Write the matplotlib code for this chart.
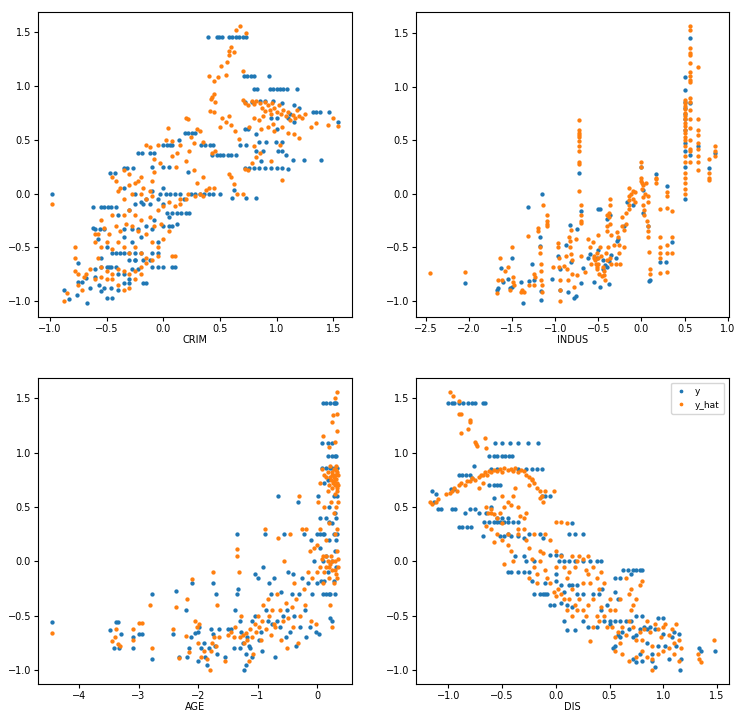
import numpy as np
import matplotlib
matplotlib.use("Agg")
import matplotlib.pyplot as plt

# ---- CRIM panel -------------------------------------------------------
crim_y = [
    (0.39, 1.46), (0.47, 1.46), (0.49, 1.46), (0.52, 1.46), (0.58, 1.46), (0.61, 1.46), (0.64, 1.46),
    (0.67, 1.46), (0.70, 1.46), (0.73, 1.46), (0.71, 1.09), (0.74, 1.09), (0.77, 1.09), (0.80, 1.09),
    (0.93, 1.09), (0.80, 0.97), (0.83, 0.97), (0.94, 0.97), (0.97, 0.97), (1.00, 0.97), (1.03, 0.97),
    (1.06, 0.97), (1.09, 0.97), (1.18, 0.97), (1.32, 0.76), (1.35, 0.76), (1.38, 0.76), (1.46, 0.76),
    (1.54, 0.67), (0.19, 0.56), (0.22, 0.56), (0.25, 0.56), (0.28, 0.56), (0.00, 0.45), (0.03, 0.45),
    (0.06, 0.45), (0.08, 0.45), (0.33, 0.45), (0.37, 0.45), (0.41, 0.45), (0.44, 0.45), (0.43, 0.36),
    (0.47, 0.36), (0.50, 0.36), (0.53, 0.36), (0.57, 0.36), (0.60, 0.36), (0.64, 0.36), (-0.22, 0.38),
    (-0.19, 0.38), (-0.12, 0.38), (-0.08, 0.38), (1.14, 0.31), (1.24, 0.31), (1.39, 0.31), (0.72, 0.24),
    (0.76, 0.24), (0.80, 0.24), (0.84, 0.24), (0.90, 0.24), (0.95, 0.24), (1.00, 0.24), (1.05, 0.24),
    (-0.35, 0.24), (-0.32, 0.24), (-0.27, 0.24), (-0.47, 0.19), (-0.43, 0.19), (0.22, 0.20),
    (0.00, 0.25), (0.05, 0.25), (-0.98, 0.00), (-0.03, 0.00), (0.02, 0.00), (0.06, 0.00), (0.10, 0.00),
    (0.24, 0.00), (0.28, 0.00), (0.32, 0.00), (0.36, 0.00), (0.40, 0.00), (0.44, 0.00), (0.50, 0.00),
    (0.61, -0.04), (0.73, -0.04), (0.82, -0.04), (-0.62, -0.13), (-0.55, -0.13), (-0.52, -0.13),
    (-0.49, -0.13), (-0.46, -0.13), (-0.42, -0.13), (-0.25, -0.10), (-0.18, -0.10), (-0.12, -0.10),
    (0.03, -0.18), (0.08, -0.18), (0.12, -0.18), (0.16, -0.18), (0.20, -0.18), (0.23, -0.18),
    (-0.60, -0.33), (-0.56, -0.33), (-0.35, -0.33), (-0.28, -0.33), (-0.22, -0.33), (-0.10, -0.33),
    (0.05, -0.30), (0.12, -0.28), (-0.42, -0.55), (-0.38, -0.55), (-0.35, -0.55), (-0.30, -0.55),
    (-0.25, -0.55), (-0.20, -0.55), (-0.10, -0.55), (-0.05, -0.55), (-0.30, -0.62), (-0.25, -0.62),
    (-0.18, -0.62), (-0.12, -0.62), (-0.55, -0.68), (-0.50, -0.68), (-0.46, -0.68), (-0.42, -0.68),
    (-0.10, -0.68), (-0.05, -0.68), (0.00, -0.68), (0.08, -0.68), (0.10, -0.68), (-0.28, -0.70),
    (-0.22, -0.70), (-0.18, -0.83), (-0.15, -0.83), (-0.35, -0.83), (-0.30, -0.83), (-0.52, -0.88),
    (-0.46, -0.88), (-0.88, -0.90), (-0.83, -0.98), (-0.76, -0.94), (-0.75, -0.82), (-0.72, -0.82),
    (-0.67, -1.02), (-0.65, -0.88), (-0.68, -0.79), (-0.60, -0.78), (-0.57, -0.85), (-0.50, -0.97),
    (-0.45, -0.97), (-0.40, -0.90), (-0.55, -0.91), (-0.60, -0.70), (-0.75, -0.65), (-0.55, -0.60),
    (-0.50, -0.50), (-0.58, -0.42), (-0.62, -0.32), (-0.52, -0.33), (0.75, 0.60), (0.72, 0.60),
    (0.88, 0.40), (0.82, 0.40), (0.84, 0.48), (0.91, 0.48), (0.99, 0.48), (1.05, 0.48), (1.01, 0.40),
    (1.05, 0.40), (1.08, 0.36), (1.10, 0.23), (0.95, 0.70), (1.00, 0.70), (1.10, 0.70), (1.15, 0.67),
    (1.20, 0.80), (1.15, 0.82), (0.85, 0.86), (0.90, 0.86), (0.97, 0.86), (1.05, 0.84), (0.78, 0.85),
    (0.72, 0.85), (1.12, 0.74), (0.82, 0.55), (1.00, 0.60), (0.68, 0.45), (0.73, 0.45), (0.86, 0.30),
    (0.62, 0.03), (0.14, 0.50), (-0.30, -0.15), (-0.20, -0.08), (-0.15, -0.05), (-0.05, -0.05),
    (0.00, -0.10), (-0.15, -0.30), (-0.08, -0.25), (-0.05, -0.45), (0.00, -0.30), (-0.20, -0.40),
    (-0.28, -0.45), (-0.35, -0.40), (-0.45, -0.55), (-0.48, -0.68), (-0.40, -0.75), (-0.35, -0.75),
    (-0.30, -0.80), (-0.25, -0.62), (0.05, -0.22), (0.08, -0.30), (0.00, 0.05), (-0.10, 0.02),
    (-0.35, 0.05), (-0.40, -0.20), (-0.25, 0.00), (-0.10, 0.25), (0.15, 0.00), (0.18, -0.05),
]
crim_yhat = [
    (0.40, 1.09), (0.45, 1.05), (0.48, 1.08), (0.51, 1.19), (0.56, 1.22), (0.58, 1.29), (0.58, 1.33),
    (0.60, 1.36), (0.62, 1.32), (0.64, 1.52), (0.68, 1.56), (0.73, 1.49), (0.70, 1.14), (0.55, 1.10),
    (0.43, 0.90), (0.42, 0.88), (0.45, 0.93), (0.46, 0.85), (0.41, 0.77), (0.45, 0.76), (0.55, 0.67),
    (0.52, 0.70), (0.58, 0.72), (0.60, 0.64), (0.63, 0.58), (0.67, 0.51), (0.50, 0.62), (0.70, 0.87),
    (0.72, 0.84), (0.75, 0.82), (0.78, 0.86), (0.80, 0.83), (0.82, 0.86), (0.85, 0.84), (0.87, 0.80),
    (0.90, 0.85), (0.92, 0.82), (0.94, 0.78), (0.96, 0.84), (0.98, 0.80), (1.00, 0.76), (1.02, 0.82),
    (1.04, 0.74), (1.06, 0.78), (1.08, 0.72), (1.10, 0.76), (1.12, 0.68), (1.14, 0.73), (1.16, 0.70),
    (1.18, 0.78), (1.20, 0.72), (1.22, 0.70), (1.25, 0.74), (0.88, 0.72), (0.84, 0.68), (0.80, 0.70),
    (0.76, 0.62), (0.86, 0.60), (0.92, 0.62), (0.97, 0.65), (1.05, 0.62), (1.10, 0.56), (1.15, 0.55),
    (1.20, 0.52), (1.30, 0.62), (1.35, 0.66), (1.45, 0.64), (1.50, 0.70), (1.54, 0.63), (0.95, 0.74),
    (0.90, 0.77), (0.98, 0.58), (0.80, 0.44), (0.85, 0.38), (0.82, 0.34), (0.78, 0.28), (0.75, 0.22),
    (0.72, 0.23), (0.95, 0.30), (1.03, 0.45), (1.05, 0.13), (0.62, 0.09), (0.65, 0.00), (0.70, -0.00),
    (0.60, 0.15), (0.58, 0.18), (0.43, 0.38), (0.46, 0.40), (0.35, 0.48), (0.20, 0.70), (0.22, 0.69),
    (0.30, 0.60), (0.32, 0.58), (0.24, 0.53), (0.27, 0.47), (0.23, 0.40), (0.15, 0.45), (0.12, 0.38),
    (0.08, 0.49), (0.04, 0.61), (0.02, 0.50), (-0.05, 0.45), (-0.12, 0.43), (-0.15, 0.45), (-0.08, 0.32),
    (-0.03, 0.28), (0.08, 0.35), (0.11, 0.25), (0.20, 0.30), (0.27, 0.22), (0.30, 0.10), (0.35, 0.15),
    (0.40, 0.05), (0.45, 0.05), (0.32, 0.00), (0.28, -0.02), (0.20, -0.05), (0.15, -0.10), (0.10, -0.12),
    (0.05, -0.08), (0.00, -0.12), (-0.05, -0.15), (0.15, -0.05), (0.22, 0.00), (0.35, -0.02),
    (0.38, 0.03), (-0.10, 0.12), (-0.08, 0.20), (-0.20, 0.15), (-0.22, 0.12), (-0.25, 0.10),
    (-0.18, 0.05), (-0.12, 0.02), (-0.20, 0.00), (-0.15, -0.05), (-0.10, -0.02), (-0.30, 0.08),
    (-0.28, 0.00), (-0.38, 0.05), (-0.45, 0.15), (-0.42, 0.12), (-0.35, -0.05), (-0.30, -0.15),
    (-0.25, -0.20), (-0.20, -0.25), (-0.12, -0.22), (-0.08, -0.30), (-0.02, -0.28), (0.05, -0.35),
    (0.00, -0.42), (-0.05, -0.50), (-0.10, -0.45), (-0.15, -0.38), (-0.22, -0.35), (-0.28, -0.30),
    (-0.33, -0.28), (-0.38, -0.35), (-0.42, -0.30), (-0.48, -0.38), (-0.52, -0.32), (-0.58, -0.38),
    (-0.60, -0.45), (-0.55, -0.50), (-0.50, -0.45), (-0.45, -0.52), (-0.40, -0.45), (-0.35, -0.50),
    (-0.30, -0.55), (-0.25, -0.50), (-0.20, -0.55), (-0.15, -0.60), (-0.10, -0.62), (-0.05, -0.58),
    (0.08, -0.58), (0.10, -0.58), (-0.58, -0.60), (-0.55, -0.68), (-0.50, -0.72), (-0.45, -0.75),
    (-0.40, -0.70), (-0.35, -0.72), (-0.30, -0.75), (-0.25, -0.72), (-0.20, -0.68), (-0.15, -0.65),
    (-0.20, -0.75), (-0.25, -0.80), (-0.30, -0.88), (-0.35, -0.90), (-0.40, -0.85), (-0.45, -0.80),
    (-0.50, -0.80), (-0.55, -0.78), (-0.60, -0.80), (-0.65, -0.70), (-0.68, -0.75), (-0.70, -0.78),
    (-0.75, -0.75), (-0.78, -0.72), (-0.78, -0.60), (-0.78, -0.50), (-0.75, -0.85), (-0.72, -0.90),
    (-0.85, -0.93), (-0.88, -1.00), (-0.98, -0.10), (-0.60, -0.38), (-0.55, -0.25), (-0.45, -0.20),
    (-0.35, -0.20), (-0.40, 0.02), (-0.30, 0.18), (-0.35, 0.22),
]

# ---- INDUS panel ------------------------------------------------------
indus_y = [
    (-2.05, -0.83), (-1.67, -0.90), (-1.66, -0.88), (-1.63, -0.69), (-1.60, -0.82), (-1.55, -0.79),
    (-1.50, -0.60), (-1.50, -0.87), (-1.52, -0.88), (-1.40, -0.82), (-1.37, -1.02), (-1.32, -0.12),
    (-1.30, -0.81), (-1.27, -0.65), (-1.25, -0.80), (-1.18, -0.40), (-1.18, -0.49), (-1.17, -0.91),
    (-1.16, -0.99), (-1.15, 0.00), (-1.04, -0.79), (-0.97, -0.58), (-0.95, -0.70), (-0.95, -0.90),
    (-0.87, -0.48), (-0.85, -0.92), (-0.83, -0.29), (-0.82, -0.64), (-0.78, -0.97), (-0.76, -0.95),
    (-0.75, -0.33), (-0.72, 0.20), (-0.70, -0.16), (-0.70, -0.83), (-0.68, -0.69), (-0.62, -0.60),
    (-0.60, -0.56), (-0.55, -0.82), (-0.50, -0.52), (-0.50, -0.14), (-0.48, -0.14), (-0.48, -0.87),
    (-0.45, -0.62), (-0.42, -0.66), (-0.40, -0.68), (-0.40, -0.23), (-0.38, -0.84), (-0.38, -0.63),
    (-0.37, -0.20), (-0.35, -0.57), (-0.28, -0.44), (-0.27, -0.42), (-0.17, -0.08), (-0.10, -0.10),
    (0.00, 0.25), (0.02, 0.04), (0.07, -0.30), (0.09, -0.81), (0.10, -0.80), (0.17, 0.19),
    (0.22, -0.64), (0.29, -0.64), (0.30, 0.07), (0.35, -0.45), (0.50, -0.05), (0.50, 0.25),
    (0.50, 0.40), (0.50, 0.48), (0.50, 0.97), (0.50, 1.09), (0.50, 0.75), (0.50, 0.80), (0.50, 0.60),
    (0.50, 0.86), (0.50, 0.70), (0.56, 1.46), (0.56, 0.36), (0.65, 0.45), (0.78, 0.24), (0.85, 0.38),
    (-0.52, -0.60), (-0.45, -0.70), (-0.30, -0.60), (-0.20, -0.30), (0.02, -0.18), (0.56, 0.85),
]
indus_yhat = [
    (-2.45, -0.74), (-2.05, -0.73), (-1.67, -0.93), (-1.66, -0.80), (-1.64, -0.60), (-1.62, -0.80),
    (-1.58, -0.72), (-1.55, -0.68), (-1.52, -0.90), (-1.50, -0.50), (-1.49, -0.78), (-1.49, -0.82),
    (-1.48, -0.85), (-1.40, -0.92), (-1.38, -0.90), (-1.36, -0.92), (-1.32, -0.39), (-1.30, -0.85),
    (-1.25, -0.75), (-1.25, -0.85), (-1.23, -0.78), (-1.20, -0.32), (-1.20, -0.35), (-1.18, -0.50),
    (-1.18, -0.55), (-1.17, -0.65), (-1.17, -0.72), (-1.16, -0.80), (-1.15, -0.85), (-1.15, -0.92),
    (-1.14, -0.10), (-1.10, -0.20), (-1.10, -0.25), (-1.10, -0.28), (-1.10, -0.30), (-1.03, -0.68),
    (-0.97, -0.46), (-0.97, -0.50), (-0.96, -0.60), (-0.96, -0.68), (-0.95, -0.80), (-0.95, -0.90),
    (-0.94, -1.00), (-0.90, -0.67), (-0.87, -0.58), (-0.86, -0.70), (-0.85, -0.80), (-0.84, -0.40),
    (-0.83, -0.44), (-0.83, -0.50), (-0.82, -0.56), (-0.82, -0.34), (-0.81, -0.62), (-0.80, -0.75),
    (-0.78, -0.87), (-0.76, -0.42), (-0.75, -0.76), (-0.72, 0.69), (-0.72, 0.60), (-0.72, 0.57),
    (-0.72, 0.55), (-0.72, 0.53), (-0.72, 0.49), (-0.72, 0.45), (-0.72, 0.40), (-0.72, 0.30),
    (-0.72, 0.28), (-0.72, 0.03), (-0.70, -0.10), (-0.70, -0.20), (-0.70, -0.25), (-0.70, -0.27),
    (-0.70, -0.58), (-0.65, -0.73), (-0.62, -0.42), (-0.60, -0.50), (-0.58, -0.65), (-0.56, -0.45),
    (-0.55, -0.58), (-0.55, -0.60), (-0.54, -0.62), (-0.53, -0.65), (-0.52, -0.68), (-0.52, -0.55),
    (-0.51, -0.70), (-0.50, -0.38), (-0.50, -0.60), (-0.50, -0.65), (-0.49, -0.75), (-0.48, -0.50),
    (-0.47, -0.58), (-0.46, -0.77), (-0.45, -0.68), (-0.44, -0.72), (-0.43, -0.76), (-0.42, -0.80),
    (-0.41, -0.55), (-0.40, -0.20), (-0.40, -0.30), (-0.40, -0.35), (-0.40, -0.62), (-0.39, -0.50),
    (-0.38, -0.18), (-0.38, -0.22), (-0.37, -0.10), (-0.37, -0.05), (-0.37, -0.28), (-0.36, -0.60),
    (-0.35, -0.65), (-0.35, -0.38), (-0.32, -0.48), (-0.30, -0.65), (-0.28, -0.36), (-0.27, -0.40),
    (-0.26, -0.48), (-0.26, -0.55), (-0.25, -0.65), (-0.22, -0.30), (-0.22, -0.22), (-0.20, -0.34),
    (-0.20, -0.50), (-0.18, -0.18), (-0.18, -0.28), (-0.15, -0.02), (-0.15, -0.06), (-0.14, -0.10),
    (-0.14, 0.06), (-0.14, -0.14), (-0.12, 0.00), (-0.10, 0.03), (-0.10, -0.05), (-0.08, -0.08),
    (-0.08, 0.02), (0.00, 0.30), (0.00, 0.25), (0.00, 0.15), (0.00, 0.12), (0.01, 0.10), (0.01, 0.05),
    (0.02, 0.08), (0.02, -0.03), (0.02, -0.10), (0.03, -0.15), (0.03, -0.20), (0.04, 0.00), (0.05, 0.10),
    (0.06, -0.25), (0.08, -0.02), (0.08, -0.08), (0.08, -0.30), (0.08, -0.35), (0.08, -0.40),
    (0.09, -0.54), (0.10, -0.70), (0.10, -0.75), (0.17, 0.10), (0.17, 0.14), (0.17, 0.15),
    (0.22, -0.14), (0.22, -0.40), (0.22, -0.50), (0.22, -0.55), (0.22, -0.60), (0.22, -0.74),
    (0.30, 0.02), (0.30, -0.02), (0.30, -0.13), (0.30, -0.48), (0.30, -0.55), (0.30, -0.73),
    (0.35, -0.16), (0.35, -0.40), (0.35, -0.55), (0.50, 0.00), (0.50, 0.05), (0.50, 0.10), (0.50, 0.15),
    (0.50, 0.20), (0.50, 0.30), (0.50, 0.35), (0.50, 0.45), (0.50, 0.50), (0.50, 0.53), (0.50, 0.57),
    (0.50, 0.60), (0.50, 0.63), (0.50, 0.66), (0.50, 0.70), (0.50, 0.73), (0.50, 0.76), (0.50, 0.79),
    (0.50, 0.82), (0.50, 0.85), (0.50, 0.88), (0.56, 1.57), (0.56, 1.53), (0.56, 1.36), (0.56, 1.32),
    (0.56, 1.30), (0.56, 1.22), (0.56, 1.14), (0.56, 1.10), (0.56, 1.05), (0.56, 1.06), (0.56, 0.90),
    (0.56, 0.86), (0.56, 0.78), (0.56, 0.70), (0.56, 0.62), (0.56, 0.50), (0.56, 0.42), (0.56, 0.40),
    (0.56, 0.30), (0.65, 1.19), (0.65, 0.70), (0.65, 0.60), (0.65, 0.55), (0.65, 0.48), (0.65, 0.42),
    (0.65, 0.35), (0.65, 0.30), (0.65, 0.22), (0.78, 0.33), (0.78, 0.20), (0.78, 0.15), (0.78, 0.13),
    (0.85, 0.45), (0.85, 0.40), (0.85, 0.35),
]

# ---- AGE panel --------------------------------------------------------
age_y = [
    (-4.45, -0.56), (-3.48, -0.63), (-3.42, -0.80), (-3.38, -0.56), (-3.35, -0.56), (-3.33, -0.80),
    (-3.30, -0.67), (-3.10, -0.70), (-3.10, -0.80), (-3.00, -0.67), (-2.95, -0.67), (-2.78, -0.30),
    (-2.78, -0.90), (-2.42, -0.67), (-2.37, -0.27), (-2.32, -0.88), (-2.20, -0.45), (-2.18, -0.88),
    (-2.15, -0.80), (-2.12, -0.70), (-2.10, -0.20), (-2.05, -0.66), (-2.00, -0.65), (-2.00, -0.92),
    (-1.98, -0.60), (-1.95, -0.80), (-1.90, -0.75), (-1.88, -0.88), (-1.85, -0.95), (-1.82, -0.80),
    (-1.78, -0.62), (-1.75, -0.20), (-1.75, -0.67), (-1.72, -0.78), (-1.70, -0.30), (-1.68, -0.85),
    (-1.65, -0.62), (-1.55, -0.88), (-1.50, -0.62), (-1.45, -0.62), (-1.40, -0.80), (-1.38, -0.45),
    (-1.35, 0.25), (-1.35, -0.30), (-1.33, -0.25), (-1.30, -0.55), (-1.30, -0.80), (-1.28, -0.65),
    (-1.25, -0.75), (-1.22, -1.00), (-1.20, -0.95), (-1.20, -0.85), (-1.18, -0.70), (-1.15, -0.78),
    (-1.12, -0.80), (-1.10, -0.55), (-1.10, -0.88), (-1.05, -0.12), (-1.05, -0.50), (-1.00, -0.15),
    (-0.98, -0.72), (-0.95, -0.65), (-0.92, -0.82), (-0.90, -0.05), (-0.88, 0.25), (-0.85, -0.45),
    (-0.82, -0.55), (-0.80, -0.20), (-0.78, -0.30), (-0.75, -0.58), (-0.72, -0.15), (-0.70, -0.88),
    (-0.68, -0.55), (-0.65, 0.60), (-0.62, -0.60), (-0.60, -0.28), (-0.58, -0.50), (-0.55, 0.25),
    (-0.52, -0.70), (-0.50, -0.45), (-0.48, -0.10), (-0.45, -0.65), (-0.42, -0.30), (-0.40, -0.12),
    (-0.38, -0.50), (-0.35, -0.78), (-0.32, 0.55), (-0.30, -0.30), (-0.28, -0.60), (-0.25, -0.15),
    (-0.22, 0.25), (-0.20, -0.45), (-0.18, -0.70), (-0.15, -0.20), (-0.12, -0.60), (-0.10, 0.20),
    (-0.08, -0.30), (-0.05, 0.00), (-0.02, -0.65), (0.00, 0.25), (0.00, -0.20), (0.02, 0.60),
    (0.03, -0.67), (0.05, 0.40), (0.05, 0.12), (0.07, -0.18), (0.08, 1.09), (0.08, 0.86), (0.10, 1.46),
    (0.10, 0.00), (0.10, -0.30), (0.12, 0.72), (0.12, 0.25), (0.15, 1.46), (0.15, 0.86), (0.15, 0.40),
    (0.15, 0.05), (0.15, -0.30), (0.18, 1.09), (0.18, 0.97), (0.18, 0.75), (0.18, -0.10), (0.20, 0.50),
    (0.20, 0.20), (0.22, 1.46), (0.22, 0.86), (0.22, -0.30), (0.22, -0.52), (0.25, 1.09), (0.25, 0.97),
    (0.25, 0.35), (0.25, 0.00), (0.25, -0.55), (0.28, 1.46), (0.28, 0.60), (0.28, 0.25), (0.28, -0.18),
    (0.30, 1.46), (0.30, 0.97), (0.30, 0.86), (0.30, 0.45), (0.30, 0.10), (0.30, -0.30), (0.32, 1.46),
    (0.32, 0.97), (0.32, 0.40), (0.32, -0.05), (0.32, 0.20), (0.33, 0.60), (0.33, 0.86), (0.33, 0.25),
    (0.05, 0.25), (0.10, 0.25), (0.20, 0.36), (0.25, 0.86), (0.12, -0.18), (0.20, -0.30),
]
age_yhat = [
    (-4.45, -0.66), (-3.45, -0.73), (-3.40, -0.70), (-3.38, -0.62), (-3.35, -0.76), (-3.32, -0.78),
    (-3.10, -0.62), (-3.10, -0.72), (-3.00, -0.57), (-2.95, -0.57), (-2.80, -0.40), (-2.78, -0.80),
    (-2.42, -0.62), (-2.37, -0.42), (-2.32, -0.89), (-2.20, -0.69), (-2.18, -0.35), (-2.15, -0.83),
    (-2.10, -0.16), (-2.05, -0.55), (-2.02, -0.60), (-2.00, -0.75), (-1.98, -0.58), (-1.95, -0.88),
    (-1.90, -0.82), (-1.85, -0.90), (-1.80, -1.00), (-1.78, -0.82), (-1.76, -0.75), (-1.75, -0.10),
    (-1.73, -0.70), (-1.70, -0.78), (-1.68, -0.40), (-1.65, -0.70), (-1.55, -0.92), (-1.50, -0.68),
    (-1.45, -0.65), (-1.40, -0.70), (-1.38, -0.60), (-1.35, 0.11), (-1.35, 0.05), (-1.32, -0.10),
    (-1.30, -0.70), (-1.28, -0.50), (-1.25, -0.68), (-1.22, -0.75), (-1.20, -0.66), (-1.18, -0.72),
    (-1.15, -0.92), (-1.12, -0.62), (-1.10, -0.70), (-1.08, -0.85), (-1.05, -0.58), (-1.02, -0.65),
    (-1.00, -0.50), (-0.98, -0.60), (-0.95, -0.72), (-0.92, -0.55), (-0.90, -0.40), (-0.88, 0.30),
    (-0.85, -0.62), (-0.82, -0.35), (-0.80, -0.50), (-0.78, -0.68), (-0.75, -0.45), (-0.72, -0.58),
    (-0.70, -0.60), (-0.68, -0.30), (-0.65, 0.22), (-0.62, -0.45), (-0.60, -0.72), (-0.58, -0.55),
    (-0.55, 0.00), (-0.52, -0.38), (-0.50, -0.80), (-0.48, -0.52), (-0.45, 0.25), (-0.42, -0.42),
    (-0.40, -0.60), (-0.38, -0.20), (-0.35, -0.35), (-0.32, -0.75), (-0.30, 0.60), (-0.28, -0.50),
    (-0.25, 0.30), (-0.22, -0.25), (-0.20, -0.40), (-0.18, 0.30), (-0.15, -0.10), (-0.12, 0.10),
    (-0.10, -0.55), (-0.08, -0.15), (-0.05, 0.12), (-0.02, -0.58), (0.00, 0.15), (0.00, -0.10),
    (0.02, 0.55), (0.05, 0.72), (0.05, 0.30), (0.05, -0.05), (0.08, 0.85), (0.08, 0.02), (0.10, -0.20),
    (0.10, 1.15), (0.12, 0.80), (0.12, 0.50), (0.12, -0.10), (0.15, 0.78), (0.15, 0.20), (0.15, -0.05),
    (0.18, 0.82), (0.18, 0.65), (0.18, 0.00), (0.20, 1.05), (0.20, 0.70), (0.20, 0.35), (0.20, -0.15),
    (0.22, 0.88), (0.22, 0.78), (0.22, -0.02), (0.22, -0.40), (0.24, 0.75), (0.24, 0.55), (0.24, 0.05),
    (0.25, 1.28), (0.25, 0.82), (0.25, -0.60), (0.26, 0.68), (0.26, -0.08), (0.27, 1.35), (0.27, 0.72),
    (0.28, 0.85), (0.28, 0.45), (0.28, -0.20), (0.29, 0.78), (0.30, 1.50), (0.30, 1.10), (0.30, 0.80),
    (0.30, 0.62), (0.30, 0.00), (0.31, 0.70), (0.31, 0.25), (0.32, 0.88), (0.32, 0.76), (0.32, 0.50),
    (0.32, -0.12), (0.33, 1.56), (0.33, 1.20), (0.33, 0.82), (0.33, 0.65), (0.33, 0.10), (0.34, 1.36),
    (0.34, 0.72), (0.34, 0.30), (0.34, -0.15), (0.35, 0.80), (0.35, 0.55), (0.35, 0.02), (0.30, 0.76),
    (0.32, 0.84), (0.34, 0.68), (0.28, 0.74), (0.26, 0.80), (0.35, 0.70), (0.20, -0.05), (0.25, 0.00),
    (0.15, 0.05), (0.30, -0.08), (0.35, -0.05), (0.10, 0.05),
]

# ---- DIS panel --------------------------------------------------------
dis_y = [
    (-1.15, 0.65), (-1.12, 0.62), (-1.10, 0.48), (-1.07, 0.48), (-1.13, 0.55), (-1.00, 1.46),
    (-0.97, 1.46), (-0.95, 1.46), (-0.90, 1.46), (-0.86, 1.46), (-0.82, 1.46), (-0.78, 1.46),
    (-0.75, 1.46), (-0.68, 1.46), (-0.66, 1.46), (-0.98, 0.67), (-0.95, 0.67), (-0.90, 0.80),
    (-0.87, 0.80), (-0.84, 0.80), (-0.80, 0.80), (-0.78, 0.77), (-0.76, 0.88), (-0.97, 0.48),
    (-0.94, 0.48), (-0.90, 0.32), (-0.87, 0.32), (-0.83, 0.32), (-0.79, 0.32), (-0.85, 0.45),
    (-0.80, 0.48), (-0.75, 0.48), (-0.72, 0.45), (-0.68, 0.23), (-0.67, 0.36), (-0.65, 0.45),
    (-0.62, 0.36), (-0.60, 0.50), (-0.58, 0.58), (-0.57, 1.09), (-0.50, 1.09), (-0.43, 1.09),
    (-0.35, 1.09), (-0.26, 1.09), (-0.17, 1.09), (-0.62, 0.97), (-0.58, 0.97), (-0.55, 0.97),
    (-0.50, 0.97), (-0.47, 0.97), (-0.44, 0.97), (-0.41, 0.97), (-0.62, 0.70), (-0.58, 0.70),
    (-0.55, 0.70), (-0.52, 0.70), (-0.60, 0.85), (-0.55, 0.85), (-0.35, 0.85), (-0.28, 0.85),
    (-0.22, 0.85), (-0.18, 0.85), (-0.13, 0.85), (-0.58, 0.36), (-0.55, 0.36), (-0.52, 0.36),
    (-0.48, 0.36), (-0.45, 0.36), (-0.40, 0.36), (-0.35, 0.36), (-0.55, 0.40), (-0.50, 0.40),
    (-0.45, 0.40), (-0.52, 0.23), (-0.48, 0.23), (-0.45, 0.25), (-0.42, 0.23), (-0.35, 0.23),
    (-0.30, 0.22), (-0.25, 0.25), (-0.15, 0.25), (-0.12, 0.22), (-0.10, 0.60), (-0.05, 0.60),
    (-0.13, 0.60), (-0.45, -0.10), (-0.42, -0.10), (-0.35, -0.10), (-0.38, 0.05), (-0.30, 0.05),
    (-0.30, -0.10), (-0.25, -0.10), (-0.28, 0.00), (-0.22, -0.18), (-0.20, -0.30), (-0.15, -0.30),
    (-0.12, -0.30), (-0.10, -0.30), (-0.08, -0.30), (-0.05, -0.40), (-0.02, -0.40), (-0.20, 0.00),
    (-0.10, -0.20), (-0.05, 0.06), (0.00, 0.06), (0.05, 0.06), (0.03, 0.00), (0.08, 0.00), (0.12, 0.00),
    (0.18, 0.00), (0.25, 0.00), (0.32, 0.00), (0.38, 0.00), (0.42, 0.00), (0.00, -0.18), (0.05, -0.22),
    (0.08, -0.28), (0.12, -0.22), (0.15, -0.22), (0.20, -0.22), (0.20, -0.30), (0.25, -0.30),
    (0.35, -0.30), (0.40, -0.30), (0.43, -0.25), (0.05, -0.38), (0.10, -0.40), (0.15, -0.42),
    (0.08, -0.55), (0.10, -0.63), (0.18, -0.63), (0.25, -0.55), (0.30, -0.60), (0.38, -0.60),
    (0.42, -0.45), (0.48, -0.40), (0.55, -0.28), (0.58, -0.35), (0.45, -0.55), (0.50, -0.55),
    (0.55, -0.55), (0.60, -0.55), (0.65, -0.55), (0.70, -0.55), (0.75, -0.50), (0.80, -0.50),
    (0.12, 0.25), (0.18, 0.25), (0.25, 0.25), (0.15, 0.35), (0.00, -0.12), (0.63, -0.08), (0.67, -0.08),
    (0.72, -0.08), (0.75, -0.08), (0.78, -0.08), (0.80, -0.08), (0.55, -0.15), (0.60, -0.15),
    (0.70, -0.12), (0.50, -0.58), (0.53, -0.80), (0.55, -0.78), (0.58, -0.68), (0.60, -0.70),
    (0.62, -0.65), (0.68, -0.62), (0.72, -0.70), (0.75, -0.68), (0.78, -0.62), (0.82, -0.60),
    (0.85, -0.62), (0.88, -0.60), (0.92, -0.62), (0.95, -0.52), (1.00, -0.52), (0.72, -0.90),
    (0.75, -0.93), (0.78, -0.85), (0.80, -0.92), (0.85, -0.75), (0.90, -0.85), (0.90, -0.92),
    (0.92, -0.97), (0.95, -0.78), (1.00, -0.67), (1.02, -0.78), (1.05, -0.90), (1.08, -0.70),
    (1.10, -0.65), (1.12, -0.78), (1.15, -0.67), (1.16, -1.00), (1.17, -0.90), (1.33, -0.80),
    (1.35, -0.82), (1.48, -0.82),
]
dis_yhat = [
    (-1.17, 0.55), (-1.15, 0.53), (-1.12, 0.55), (-1.10, 0.57), (-1.02, 0.62), (-0.99, 0.63),
    (-0.97, 0.65), (-0.95, 0.68), (-0.92, 0.65), (-0.90, 0.70), (-0.88, 0.72), (-0.85, 0.70),
    (-0.83, 0.74), (-0.80, 0.74), (-0.78, 0.77), (-0.75, 0.75), (-0.72, 0.78), (-0.70, 0.80),
    (-0.68, 0.80), (-0.66, 0.82), (-0.64, 0.80), (-0.62, 0.83), (-0.60, 0.82), (-0.58, 0.84),
    (-0.55, 0.83), (-0.52, 0.85), (-0.50, 0.82), (-0.48, 0.86), (-0.45, 0.84), (-0.42, 0.85),
    (-0.40, 0.83), (-0.38, 0.86), (-0.35, 0.82), (-0.32, 0.84), (-0.30, 0.83), (-0.28, 0.80),
    (-0.25, 0.78), (-0.22, 0.76), (-0.20, 0.72), (-0.18, 0.68), (-0.15, 0.65), (-0.13, 0.60),
    (-0.10, 0.65), (-0.02, 0.65), (-0.99, 1.56), (-0.96, 1.52), (-0.90, 1.48), (-0.90, 1.36),
    (-0.88, 1.36), (-0.80, 1.30), (-0.80, 1.28), (-0.82, 1.22), (-0.88, 1.18), (-0.75, 1.10),
    (-0.74, 1.08), (-0.73, 1.06), (-0.66, 1.14), (-0.65, 1.04), (-0.72, 0.68), (-0.68, 0.72),
    (-0.65, 0.50), (-0.63, 0.45), (-0.60, 0.48), (-0.58, 0.44), (-0.55, 0.40), (-0.52, 0.45),
    (-0.50, 0.60), (-0.48, 0.50), (-0.45, 0.55), (-0.42, 0.52), (-0.40, 0.60), (-0.38, 0.68),
    (-0.35, 0.50), (-0.33, 0.42), (-0.30, 0.40), (-0.28, 0.45), (-0.25, 0.70), (-0.22, 0.75),
    (-0.15, 0.58), (-0.12, 0.55), (-0.65, 0.33), (-0.60, 0.30), (-0.55, 0.25), (-0.58, 0.18),
    (-0.50, 0.20), (-0.45, 0.15), (-0.42, 0.10), (-0.48, -0.02), (-0.40, 0.00), (-0.35, 0.25),
    (-0.30, 0.30), (-0.28, 0.20), (-0.25, 0.12), (-0.22, 0.02), (-0.20, -0.05), (-0.18, -0.12),
    (-0.15, 0.00), (-0.12, 0.08), (-0.10, -0.08), (-0.08, -0.15), (-0.05, -0.20), (-0.02, -0.28),
    (0.00, -0.32), (0.02, -0.25), (-0.10, 0.25), (-0.05, 0.20), (0.00, 0.36), (0.05, 0.36), (0.10, 0.35),
    (-0.20, 0.25), (-0.15, 0.10), (0.00, 0.10), (0.05, 0.05), (0.08, -0.05), (0.10, -0.15), (0.12, -0.10),
    (0.15, 0.05), (0.18, -0.05), (0.20, 0.00), (0.22, 0.05), (0.25, 0.02), (0.28, -0.08), (0.30, -0.12),
    (0.32, -0.20), (0.35, -0.05), (0.38, -0.15), (0.40, -0.25), (0.42, -0.10), (0.45, -0.20),
    (0.05, -0.30), (0.08, -0.35), (0.10, -0.45), (0.12, -0.35), (0.15, -0.50), (0.18, -0.40),
    (0.20, -0.45), (0.22, -0.35), (0.25, -0.45), (0.28, -0.50), (0.30, -0.40), (0.32, -0.73),
    (0.35, -0.60), (0.38, -0.50), (0.40, -0.55), (0.42, -0.42), (0.45, -0.50), (0.48, -0.60),
    (0.50, -0.45), (0.52, -0.60), (0.55, -0.70), (0.58, -0.65), (0.60, -0.75), (0.62, -0.60),
    (0.65, -0.68), (0.68, -0.55), (0.70, -0.45), (0.72, -0.60), (0.75, -0.72), (0.78, -0.65),
    (0.80, -0.72), (0.82, -0.62), (0.85, -0.55), (0.88, -0.65), (0.90, -0.78), (0.92, -0.58),
    (0.95, -0.62), (0.98, -0.70), (1.00, -0.60), (1.02, -0.58), (1.05, -0.68), (1.08, -0.62),
    (1.10, -0.75), (1.12, -0.58), (1.15, -0.72), (1.17, -0.80), (0.55, -0.82), (0.62, -0.85),
    (0.68, -0.92), (0.75, -0.88), (0.80, -0.82), (0.85, -0.88), (0.90, -1.00), (0.90, -0.90),
    (0.95, -0.85), (1.00, -0.82), (1.05, -0.80), (1.10, -0.85), (1.15, -0.92), (1.32, -0.85),
    (1.33, -0.90), (1.35, -0.93), (1.47, -0.72), (0.72, -0.40), (0.75, -0.35), (0.78, -0.22),
    (0.80, -0.18), (0.70, -0.25), (0.65, -0.15), (0.68, -0.30), (0.55, -0.45), (0.60, -0.35),
    (0.50, -0.35), (0.30, 0.05), (0.25, -0.20), (0.35, -0.35), (0.15, -0.25), (-0.25, -0.15),
    (-0.18, -0.20), (0.00, -0.05), (-0.60, 0.45), (-0.45, 0.25), (-0.50, 0.35), (-0.35, 0.30),
]

panels = [
    ("CRIM", crim_y, crim_yhat),
    ("INDUS", indus_y, indus_yhat),
    ("AGE", age_y, age_yhat),
    ("DIS", dis_y, dis_yhat),
]

plt.rcParams["font.size"] = 7
fig = plt.figure(figsize=(7.46, 7.18), dpi=100)
boxes = [
    [0.051, 0.5585, 0.421, 0.4248],
    [0.5576, 0.5585, 0.4196, 0.4248],
    [0.051, 0.0474, 0.421, 0.4261],
    [0.5576, 0.0474, 0.4196, 0.4261],
]

for (name, pts_y, pts_hat), box in zip(panels, boxes):
    ax = fig.add_axes(box)
    xa, ya = np.array(pts_y).T
    xb, yb = np.array(pts_hat).T
    ax.plot(xa, ya, ".", ms=4.2, label="y")
    ax.plot(xb, yb, ".", ms=4.2, label="y_hat")
    ax.set_xlabel(name, labelpad=1)
    ax.tick_params(labelsize=7, length=3, pad=2)

# legend only on the last (DIS) panel
ax.legend(loc="upper right", fontsize=6.5, handlelength=1.2, handletextpad=1.0,
          borderpad=0.5, labelspacing=0.5, markerscale=0.8)
fig.savefig("out.png", dpi=100)
